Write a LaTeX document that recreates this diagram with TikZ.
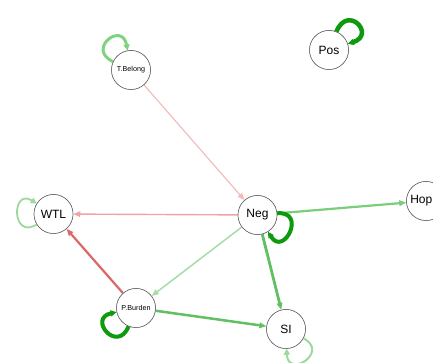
\documentclass[tikz,border=0pt]{standalone}
\usepackage{fontspec}
\setmainfont{Liberation Sans}
\usetikzlibrary{arrows.meta}
\definecolor{pinkL}{HTML}{F4B8B8}
\definecolor{pinkM}{HTML}{EFA3A3}
\definecolor{redE}{HTML}{D96868}
\definecolor{greenL}{HTML}{A6DCA6}
\definecolor{greenM}{HTML}{7ACD7A}
\definecolor{greenS}{HTML}{62C062}
\definecolor{greenD}{HTML}{0E9A0E}
\definecolor{greenLoop}{HTML}{7FD27F}
\begin{document}
\begin{tikzpicture}[x=1pt,y=1pt,
  vnode/.style={circle,draw=black!65,line width=0.5pt,fill=white,minimum size=39pt,inner sep=0pt,font=\fontsize{12}{12}\selectfont},
  snode/.style={vnode,font=\fontsize{7.2}{7.2}\selectfont},
  lbl/.style={inner sep=0pt,font=\fontsize{12}{12}\selectfont},
  arr/.style={-{Triangle[length=7pt,width=5.5pt]}},
  loopa/.style={-{Triangle[length=6pt,width=6pt]}}]
\useasboundingbox (0,0) rectangle (433,363);
\node[snode] (tb) at (131,293) {T.Belong};
\node[vnode] (pos) at (329,313) {Pos};
\node[vnode] (wtl) at (53.5,149) {WTL};
\node[vnode] (neg) at (257.5,148) {Neg};
\node[vnode] (hop) at (426,162) {};
\node[snode] (pb) at (136,55) {P.Burden};
\node[vnode] (si) at (286,34) {SI};
% edges
\draw[arr,pinkL,line width=1.1pt] (tb) -- (neg);
\draw[arr,pinkM,line width=1.4pt] (neg) -- (wtl);
\draw[arr,redE,line width=2.2pt] (pb) -- (wtl);
\draw[arr,greenL,line width=1.5pt] (neg) -- (pb);
\draw[arr,greenM,line width=2.2pt] (neg) -- (hop);
\draw[arr,greenS,line width=2.8pt] (neg) -- (si);
\draw[arr,greenS,line width=2.5pt] (pb) -- (si);
% loops
\draw[loopa,greenLoop,line width=3pt] (tb.155) .. controls +(155:30) and +(100:30) .. (tb.100);
\draw[loopa,greenD,line width=4.5pt] (pos.68) .. controls +(68:30) and +(18:30) .. (pos.18);
\draw[loopa,greenL!80!greenM,line width=1.8pt] (wtl.212) .. controls +(212:30) and +(148:30) .. (wtl.148);
\draw[loopa,greenD,line width=4pt] (neg.5) .. controls +(5:30) and +(-58:30) .. (neg.-58);
\draw[loopa,greenD,line width=4pt] (pb.248) .. controls +(248:30) and +(192:30) .. (pb.192);
\draw[loopa,greenL!80!greenM,line width=2pt] (si.-28) .. controls +(-28:30) and +(-88:30) .. (si.-88);
% redraw nodes on top
\node[snode] at (tb) {T.Belong};
\node[vnode] at (pos) {Pos};
\node[vnode] at (wtl) {WTL};
\node[vnode] at (neg) {Neg};
\node[vnode] at (hop) {};
\node[lbl,anchor=east] (hoplbl) at (432.5,162) {Hop};
\node[snode] at (pb) {P.Burden};
\node[vnode] at (si) {SI};
\end{tikzpicture}
\end{document}
